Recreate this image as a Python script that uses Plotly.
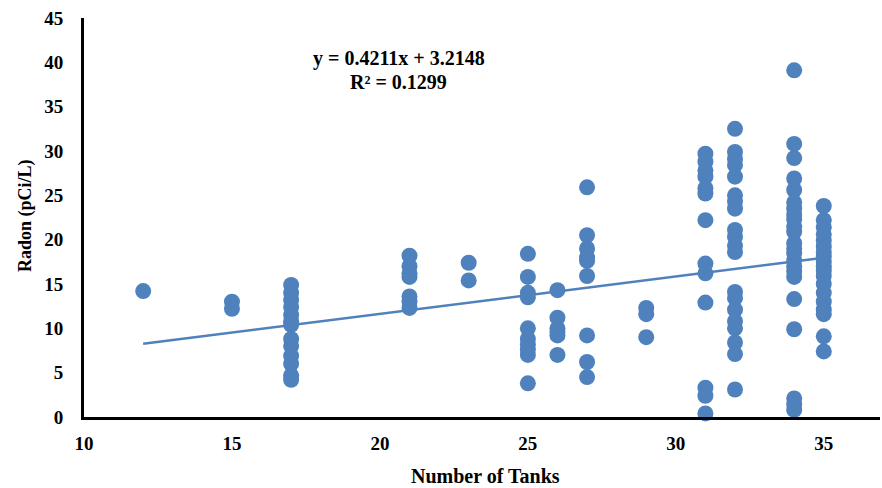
import plotly.graph_objects as go

# Data (Number of Tanks vs Radon pCi/L)
tanks_12 = [14.2]
tanks_15 = [13.0, 12.2]
tanks_17 = [14.9, 14.0, 13.2, 12.4, 11.5, 10.8, 10.4, 8.8, 8.0, 6.9, 6.0, 4.7, 4.2]
tanks_21 = [18.2, 17.0, 16.2, 15.8, 13.6, 13.0, 12.3]
tanks_23 = [17.4, 15.4]
tanks_25 = [18.4, 15.8, 14.0, 13.5, 10.0, 8.8, 8.2, 7.6, 7.0, 3.8]
tanks_26 = [14.3, 11.2, 10.0, 9.6, 9.2, 7.0]
tanks_27 = [25.9, 20.5, 19.0, 18.0, 17.6, 15.9, 9.2, 6.2, 4.5]
tanks_29 = [12.3, 11.6, 9.0]
tanks_31 = [29.7, 28.8, 27.8, 27.1, 25.8, 25.2, 22.2, 17.3, 16.2, 12.9, 3.3, 2.4, 0.4]
tanks_32 = [32.5, 29.9, 29.1, 28.4, 27.1, 25.0, 24.3, 23.5, 21.1, 20.3, 19.3, 18.6,
            14.1, 13.4, 12.1, 10.8, 10.0, 8.4, 7.1, 3.1]
tanks_34 = [39.1, 30.8, 29.2, 26.9, 25.6, 24.2, 23.5, 22.8, 22.3, 21.5, 20.9, 19.6,
            19.0, 18.5, 17.7, 17.0, 16.4, 15.8, 13.3, 9.9, 2.1, 1.4, 0.8]
tanks_35 = [23.8, 22.2, 21.4, 20.6, 19.9, 19.2, 18.6, 18.1, 17.5, 17.0, 16.5, 15.9,
            15.0, 14.0, 13.0, 12.1, 11.6, 9.1, 7.4]

groups = {12: tanks_12, 15: tanks_15, 17: tanks_17, 21: tanks_21, 23: tanks_23,
          25: tanks_25, 26: tanks_26, 27: tanks_27, 29: tanks_29, 31: tanks_31,
          32: tanks_32, 34: tanks_34, 35: tanks_35}

slope = 0.4211
intercept = 3.2148
r_squared = 0.1299

x_ticks = [10, 15, 20, 25, 30, 35]
y_ticks = [0, 5, 10, 15, 20, 25, 30, 35, 40, 45]

xs, ys = [], []
for k, vals in groups.items():
    xs += [k] * len(vals)
    ys += vals

blue = "#4F81BD"
font_family = "Liberation Serif, Times New Roman, serif"

fig = go.Figure()
fig.add_trace(go.Scatter(x=xs, y=ys, mode="markers",
                         marker=dict(color=blue, size=16, line=dict(width=0)),
                         cliponaxis=False, showlegend=False))
x_min, x_max = min(xs), max(xs)
fig.add_trace(go.Scatter(x=[x_min, x_max],
                         y=[slope * x_min + intercept, slope * x_max + intercept],
                         mode="lines", line=dict(color=blue, width=2.5),
                         showlegend=False))

tickfont = dict(family=font_family, size=19, color="black", weight="bold")

fig.update_layout(
    width=882, height=488,
    margin=dict(l=84, r=2, t=18, b=71),
    paper_bgcolor="white", plot_bgcolor="white",
    font=dict(family=font_family, size=18, color="black"),
    xaxis=dict(range=[10, 36.9], tickvals=x_ticks, showgrid=False, zeroline=False,
               showline=True, linecolor="black", linewidth=3, layer="above traces",
               ticks="", ticklabelstandoff=7, tickfont=tickfont),
    yaxis=dict(range=[0, 45], tickvals=y_ticks, showgrid=False, zeroline=False,
               showline=True, linecolor="black", linewidth=3, layer="above traces",
               ticks="", ticklabelstandoff=14, tickfont=tickfont),
    annotations=[
        dict(text="<b>y = %.4fx + %.4f</b>" % (slope, intercept),
             x=399, y=58, showarrow=False, font=dict(size=20)),
        dict(text="<b>R² = %.4f</b>" % r_squared,
             x=398, y=82, showarrow=False, font=dict(size=20)),
        dict(text="<b>Number of Tanks</b>", x=485, y=476, showarrow=False,
             font=dict(size=20)),
        dict(text="<b>Radon (pCi/L)</b>", x=25, y=216, showarrow=False,
             textangle=-90, font=dict(size=18)),
    ],
)

# convert pixel-positioned annotations to paper coords
plot_w = 882 - 84 - 2
plot_h = 488 - 18 - 71
for a in fig.layout.annotations:
    px, py = a.x, a.y
    a.xref = "paper"
    a.yref = "paper"
    a.x = (px - 84) / plot_w
    a.y = (488 - 71 - py) / plot_h
    a.xanchor = "center"
    a.yanchor = "middle"

fig.write_html("out.html")
